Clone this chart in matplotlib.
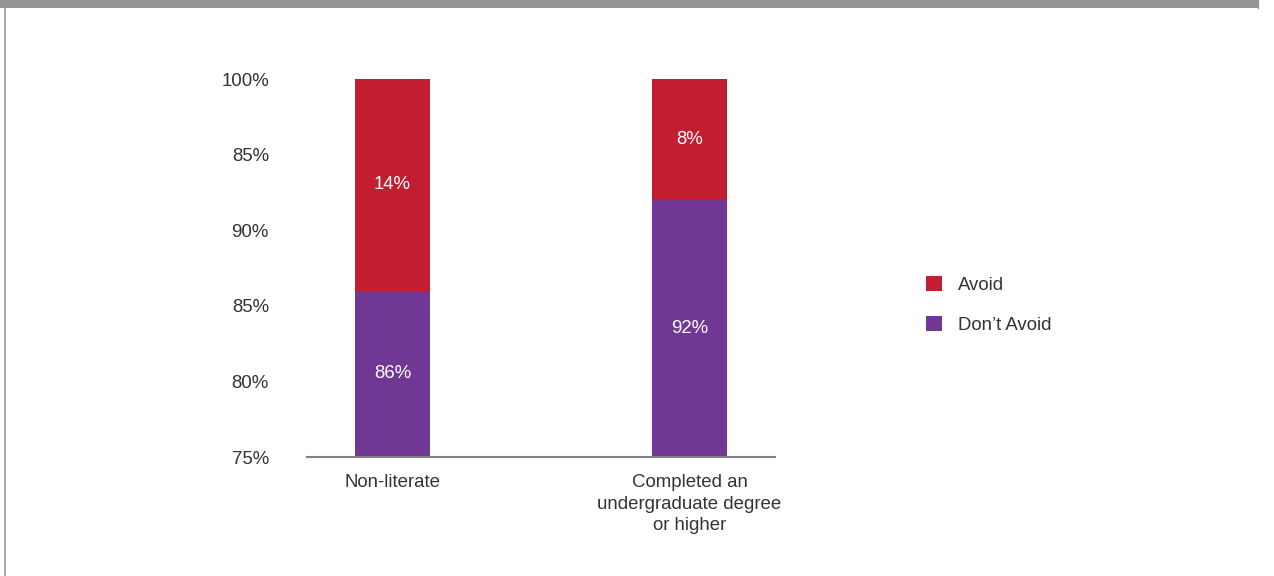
import matplotlib
matplotlib.use("Agg")
import matplotlib.pyplot as plt
from matplotlib.patches import Rectangle, Patch

plt.rcParams["font.family"] = ["Liberation Sans", "DejaVu Sans"]

categories = ["Non-literate", "Completed an\nundergraduate degree\nor higher"]
dont_avoid = [86, 92]
avoid = [14, 8]
tick_values = [75, 80, 85, 90, 95, 100]
tick_labels = ["75%", "80%", "85%", "90%", "85%", "100%"]

RED = "#C21E2F"
PURPLE = "#703894"
TEXT = "#333333"
AXIS = "#808080"
FS = 13.4

W, H = 1274, 576
fig = plt.figure(figsize=(W / 100, H / 100), dpi=100)

# header band and frame line
fig.patches.append(Rectangle((0, 1 - 8 / H), 1258 / W, 8 / H, transform=fig.transFigure,
                             facecolor="#939598", edgecolor="none", zorder=0))
fig.lines.append(plt.Line2D([4.5 / W, 4.5 / W], [0, 1 - 8 / H], transform=fig.transFigure,
                            color="#9a9a9a", lw=1.2))
fig.lines.append(plt.Line2D([1258 / W, 1258 / W], [1 - 8 / H, 1], transform=fig.transFigure,
                            color="#9a9a9a", lw=1.0))

ax = fig.add_axes([307 / W, (H - 457) / H, (775 - 307) / W, (457 - 79) / H])
x = range(len(categories))
width = 0.2525
ax.bar(x, dont_avoid, width=width, color=PURPLE, label="Don\u2019t Avoid", zorder=2)
ax.bar(x, avoid, width=width, bottom=dont_avoid, color=RED, label="Avoid", zorder=2)

ymin, ymax = 75, 100
ax.set_ylim(ymin, ymax)
ax.set_xlim(-0.288, 1.288)

for i in x:
    ax.text(i, (ymin + dont_avoid[i]) / 2, f"{dont_avoid[i]}%", ha="center", va="center",
            color="white", fontsize=FS)
    top = dont_avoid[i] + avoid[i]
    ax.text(i, (dont_avoid[i] + min(top, ymax)) / 2, f"{avoid[i]}%", ha="center", va="center",
            color="white", fontsize=FS)

ax.set_yticks(tick_values)
ax.set_yticklabels(tick_labels, fontsize=FS, color=TEXT)
ax.set_xticks(list(x))
ax.set_xticklabels(categories, fontsize=FS, color=TEXT, linespacing=1.35, va="top")
ax.tick_params(axis="y", length=0, pad=27.4)
ax.tick_params(axis="x", length=0, pad=12.5)
for s in ["top", "right", "left"]:
    ax.spines[s].set_visible(False)
ax.spines["bottom"].set_color(AXIS)
ax.spines["bottom"].set_linewidth(1.5)

handles = [Patch(facecolor=RED, edgecolor="none", label="Avoid"),
           Patch(facecolor=PURPLE, edgecolor="none", label="Don\u2019t Avoid")]
fig.legend(handles=handles, loc="upper left", bbox_to_anchor=(920 / W, 1 - 270 / H),
           frameon=False, fontsize=FS, handlelength=0.86, handleheight=0.86,
           handletextpad=0.86, labelspacing=1.2, labelcolor=TEXT, borderpad=0.3,
           borderaxespad=0)

fig.savefig("out.png", dpi=100, facecolor="white")
